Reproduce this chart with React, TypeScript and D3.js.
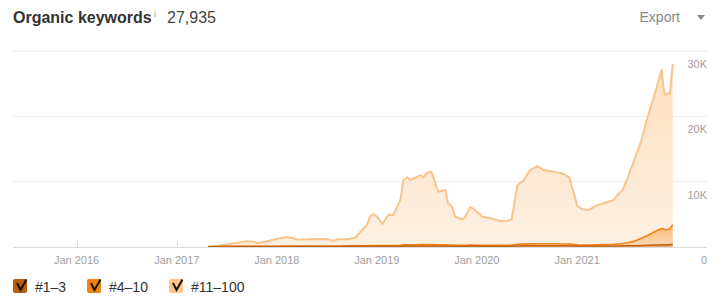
import React from "react";
import * as d3 from "d3";

const dates = [
  "2017-04-25","2017-06-08","2017-08-13","2017-09-15","2017-10-07","2017-10-25","2017-11-27","2017-12-26",
  "2018-02-01","2018-03-02","2018-03-20","2018-05-14","2018-07-04","2018-07-26","2018-08-13","2018-09-15",
  "2018-10-14","2018-11-08","2018-11-26","2018-12-07","2018-12-18","2019-01-02","2019-01-21","2019-02-12",
  "2019-03-02","2019-03-28","2019-04-08","2019-04-22","2019-05-03","2019-05-29","2019-06-08","2019-06-19",
  "2019-07-04","2019-07-19","2019-08-13","2019-09-08","2019-09-18","2019-10-03","2019-10-14","2019-11-08",
  "2019-11-19","2019-12-07","2019-12-18","2020-01-21","2020-02-19","2020-03-27","2020-04-22","2020-05-07",
  "2020-05-28","2020-06-19","2020-07-11","2020-08-09","2020-08-31","2020-10-06","2020-11-08","2020-12-03",
  "2021-01-02","2021-01-21","2021-02-12","2021-03-17","2021-04-08","2021-05-14","2021-05-28","2021-06-16",
  "2021-07-04","2021-07-26","2021-08-24","2021-09-15","2021-10-07","2021-10-21","2021-11-05","2021-11-12",
  "2021-11-17","2021-11-26","2021-12-05","2021-12-16",
];

const top3 = [
  30,60,70,70,70,70,80,80,
  90,90,90,90,90,90,90,100,
  100,110,110,120,120,120,120,120,
  130,130,140,140,140,150,150,150,
  150,150,150,150,140,140,130,130,
  130,140,140,130,130,130,130,140,
  170,180,190,200,200,200,190,190,
  160,150,150,160,160,170,170,180,
  190,210,240,270,300,320,350,340,
  330,340,350,440,
];

const top10 = [
  10,20,30,30,30,30,40,40,
  50,50,50,50,50,50,60,60,
  70,80,90,100,100,100,90,100,
  110,140,180,190,190,200,210,210,
  220,230,200,200,170,160,140,130,
  130,150,150,140,130,130,130,140,
  240,260,290,300,290,290,280,270,
  160,150,150,180,200,250,290,350,
  450,650,1100,1500,1950,2200,2500,2400,
  2300,2350,2450,2950,
];

const top100 = [
  10,150,560,770,710,470,750,1060,
  1350,1190,980,1080,1040,820,1030,1020,
  1250,2410,3170,4420,4830,4420,3310,4680,
  4660,6920,9940,10340,9930,10410,10660,10310,
  11000,11150,8110,8370,6380,5870,4370,3980,
  4290,5790,5630,4370,4130,3720,3770,3960,
  9080,9710,11200,11900,11300,11040,10810,10210,
  5960,5470,5360,6090,6330,6770,7500,8190,
  9920,12150,15040,18130,20510,22280,24240,21800,
  20640,20840,20570,24610,
];

const yTicks = [0, 10000, 20000, 30000];
const yTickLabels = ["0", "10K", "20K", "30K"];
const xTickYears = [2016, 2017, 2018, 2019, 2020, 2021];
const seriesKeys = ["top3", "top10", "top100"];
const seriesLabels = ["#1–3", "#4–10", "#11–100"];
const totalKeywords = "27,935";

const FONT = "'Liberation Sans', Arial, Helvetica, sans-serif";

export default function App() {
  const W = 727;
  const H = 307;
  const left = 13;
  const right = 707;
  const plotTop = 51;
  const plotBottom = 247;

  const parse = d3.timeParse("%Y-%m-%d");
  const rows = dates.map((d, i) => ({
    date: parse(d) as Date,
    top3: top3[i],
    top10: top10[i],
    top100: top100[i],
  }));

  const x = d3
    .scaleTime()
    .domain([new Date(2015, 4, 14), new Date(2022, 3, 20)])
    .range([left, right]);
  const y = d3.scaleLinear().domain([0, 30000]).range([plotBottom, plotTop]);

  const stack = d3.stack<any>().keys(seriesKeys);
  const stacked = stack(rows);

  const area = d3
    .area<any>()
    .x((d) => x(d.data.date))
    .y0((d) => y(d[0]))
    .y1((d) => y(d[1]))
    .curve(d3.curveLinear);
  const line = d3
    .line<any>()
    .x((d) => x(d.data.date))
    .y((d) => y(d[1]))
    .curve(d3.curveLinear);

  const fills = ["url(#g1)", "url(#g2)", "url(#g3)"];
  const strokes = ["#c0620e", "#f0841a", "#f9c48c"];
  const strokeW = [1.5, 1.6, 2];
  const boxColors = ["#b95c0b", "#f5820f", "#fcc68a"];

  const legendX = [13, 87, 169];

  return (
    <svg
      width={W}
      height={H}
      style={{ position: "absolute", left: 0, top: 0, background: "#fff" }}
      fontFamily={FONT}
    >
      <defs>
        <linearGradient id="g3" x1="0" y1="0" x2="0" y2="1">
          <stop offset="0%" stopColor="#fcd9b4" />
          <stop offset="100%" stopColor="#feeedd" />
        </linearGradient>
        <linearGradient id="g2" x1="0" y1="0" x2="0" y2="1">
          <stop offset="0%" stopColor="#f8a852" />
          <stop offset="100%" stopColor="#fbd2a4" />
        </linearGradient>
        <linearGradient id="g1" x1="0" y1="0" x2="0" y2="1">
          <stop offset="0%" stopColor="#d97a22" />
          <stop offset="100%" stopColor="#e89a50" />
        </linearGradient>
      </defs>

      {/* Header */}
      <text x={13} y={23} fontSize={16} fontWeight="bold" fill="#333">
        Organic keywords
      </text>
      <text x={154} y={17} fontSize={9} fill="#999">
        i
      </text>
      <text x={167} y={23} fontSize={16} fill="#444">
        {totalKeywords}
      </text>
      <text x={680} y={22} fontSize={14} fill="#888" textAnchor="end">
        Export
      </text>
      <path d="M697,15 L705,15 L701,20 Z" fill="#888" />

      {/* Grid lines */}
      {yTicks.map((t, i) =>
        t === 0 ? null : (
          <line
            key={"g" + i}
            x1={left}
            x2={right}
            y1={y(t)}
            y2={y(t)}
            stroke="#ebebeb"
            strokeWidth={1}
          />
        )
      )}

      {/* X ticks */}
      {xTickYears.map((yr) => {
        const xx = Math.round(x(new Date(yr, 0, 1))) + 0.5;
        return (
          <line
            key={"t" + yr}
            x1={xx}
            x2={xx}
            y1={plotBottom - 7}
            y2={plotBottom}
            stroke="#dedede"
          />
        );
      })}

      {/* Areas */}
      {stacked
        .slice()
        .reverse()
        .map((s) => {
          const idx = seriesKeys.indexOf(s.key);
          return (
            <path
              key={"a" + s.key}
              d={area(s) || ""}
              fill={fills[idx]}
              opacity={idx === 2 ? 0.85 : 0.8}
            />
          );
        })}
      {stacked
        .slice()
        .reverse()
        .map((s) => {
          const idx = seriesKeys.indexOf(s.key);
          return (
            <path
              key={"l" + s.key}
              d={line(s) || ""}
              fill="none"
              stroke={strokes[idx]}
              strokeWidth={strokeW[idx]}
              strokeLinejoin="round"
            />
          );
        })}

      {/* Baseline */}
      <line
        x1={left}
        x2={right}
        y1={plotBottom + 0.5}
        y2={plotBottom + 0.5}
        stroke="#dcdcdc"
      />

      {/* Y labels */}
      {yTicks.map((t, i) => (
        <text
          key={"yl" + i}
          x={right}
          y={y(t) + 17}
          fontSize={11}
          fill="#a0a0a0"
          textAnchor="end"
        >
          {yTickLabels[i]}
        </text>
      ))}

      {/* X labels */}
      {xTickYears.map((yr) => (
        <text
          key={"xl" + yr}
          x={x(new Date(yr, 0, 1))}
          y={264}
          fontSize={11}
          fill="#a0a0a0"
          textAnchor="middle"
        >
          {"Jan " + yr}
        </text>
      ))}

      {/* Legend */}
      {seriesLabels.map((lab, i) => {
        const lx = legendX[i];
        const ly = 279;
        return (
          <g key={"lg" + i}>
            <rect x={lx} y={ly} width={14} height={14} rx={2} fill={boxColors[i]} />
            <path
              d={`M${lx + 4},${ly + 4} L${lx + 7.5},${ly + 11} L${lx + 13.5},${ly + 0.5}`}
              fill="none"
              stroke="#111"
              strokeWidth={2}
            />
            <text x={lx + 22} y={ly + 13} fontSize={14} fill="#333">
              {lab}
            </text>
          </g>
        );
      })}
    </svg>
  );
}
